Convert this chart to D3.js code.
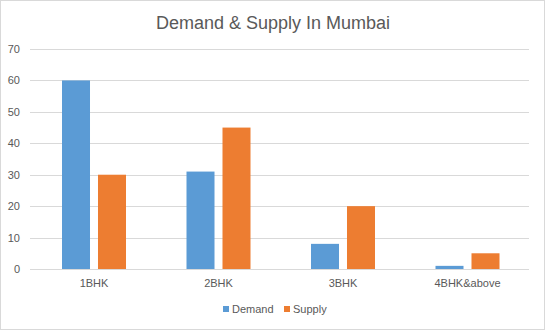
<!DOCTYPE html>
<html>
<head>
<meta charset="utf-8">
<script src="https://cdn.jsdelivr.net/npm/d3@7"></script>
<style>
  body { margin: 0; background: #fff; }
  text { font-family: "Liberation Sans", "DejaVu Sans", sans-serif; fill: #595959; }
</style>
</head>
<body>
<svg id="chart"></svg>
<script>
// data
var categories = ["1BHK", "2BHK", "3BHK", "4BHK&above"];
var seriesNames = ["Demand", "Supply"];
var demand = [60, 31, 8, 1];
var supply = [30, 45, 20, 5];
var yTicks = [0, 10, 20, 30, 40, 50, 60, 70];

var colors = {Demand: "#5b9bd5", Supply: "#ed7d31"};

var width = 545, height = 330;
var plotLeft = 30, plotRight = 529, plotTop = 49, plotBottom = 269;

var svg = d3.select("#chart").attr("width", width).attr("height", height);

// chart border
svg.append("rect")
    .attr("x", 0.5).attr("y", 0.5)
    .attr("width", width - 1).attr("height", height - 1)
    .attr("fill", "#fff")
    .attr("stroke", "#d9d9d9");

// one band per category, bars 28px wide with 8px between them
var x0 = d3.scaleBand().domain(categories).range([31.75, 529.75]);
var groupW = 64;
var x1 = d3.scaleBand().domain(seriesNames)
    .range([(x0.bandwidth() - groupW) / 2, (x0.bandwidth() + groupW) / 2])
    .paddingInner(0.222).paddingOuter(0);
var y = d3.scaleLinear().domain([0, 70]).range([plotBottom, plotTop]);

// title
svg.append("text")
    .attr("x", 273).attr("y", 29)
    .attr("text-anchor", "middle")
    .style("font-size", "18px")
    .text("Demand & Supply In Mumbai");

// gridlines
svg.append("g").selectAll("line")
    .data(yTicks)
    .join("line")
    .attr("x1", plotLeft).attr("x2", plotRight)
    .attr("y1", function (d) { return Math.round(y(d)) + 0.5; })
    .attr("y2", function (d) { return Math.round(y(d)) + 0.5; })
    .attr("stroke", "#d9d9d9")
    .attr("stroke-width", 1);

// y labels
svg.append("g").selectAll("text")
    .data(yTicks)
    .join("text")
    .attr("x", 20)
    .attr("y", function (d) { return y(d) + 4; })
    .attr("text-anchor", "end")
    .style("font-size", "11px")
    .text(function (d) { return d; });

// bars
var rows = categories.map(function (c, i) {
    return {cat: c, values: [{name: "Demand", v: demand[i]}, {name: "Supply", v: supply[i]}]};
});

var groups = svg.append("g").selectAll("g")
    .data(rows)
    .join("g")
    .attr("transform", function (d) { return "translate(" + x0(d.cat) + ",0)"; });

groups.selectAll("rect")
    .data(function (d) { return d.values; })
    .join("rect")
    .attr("x", function (d) { return x1(d.name); })
    .attr("width", x1.bandwidth())
    .attr("y", function (d) { return y(d.v); })
    .attr("height", function (d) { return y(0) - y(d.v); })
    .attr("fill", function (d) { return colors[d.name]; });

// category labels
svg.append("g").selectAll("text")
    .data(categories)
    .join("text")
    .attr("x", function (d) { return x0(d) + x0.bandwidth() / 2; })
    .attr("y", 287)
    .attr("text-anchor", "middle")
    .style("font-size", "11px")
    .text(function (d) { return d; });

// legend
var legendX = [223, 284];
var legend = svg.append("g").selectAll("g")
    .data(seriesNames)
    .join("g")
    .attr("transform", function (d, i) { return "translate(" + legendX[i] + ",306)"; });

legend.append("rect")
    .attr("width", 6).attr("height", 6)
    .attr("fill", function (d) { return colors[d]; });

legend.append("text")
    .attr("x", 9).attr("y", 7)
    .style("font-size", "11px")
    .text(function (d) { return d; });
</script>
</body>
</html>
